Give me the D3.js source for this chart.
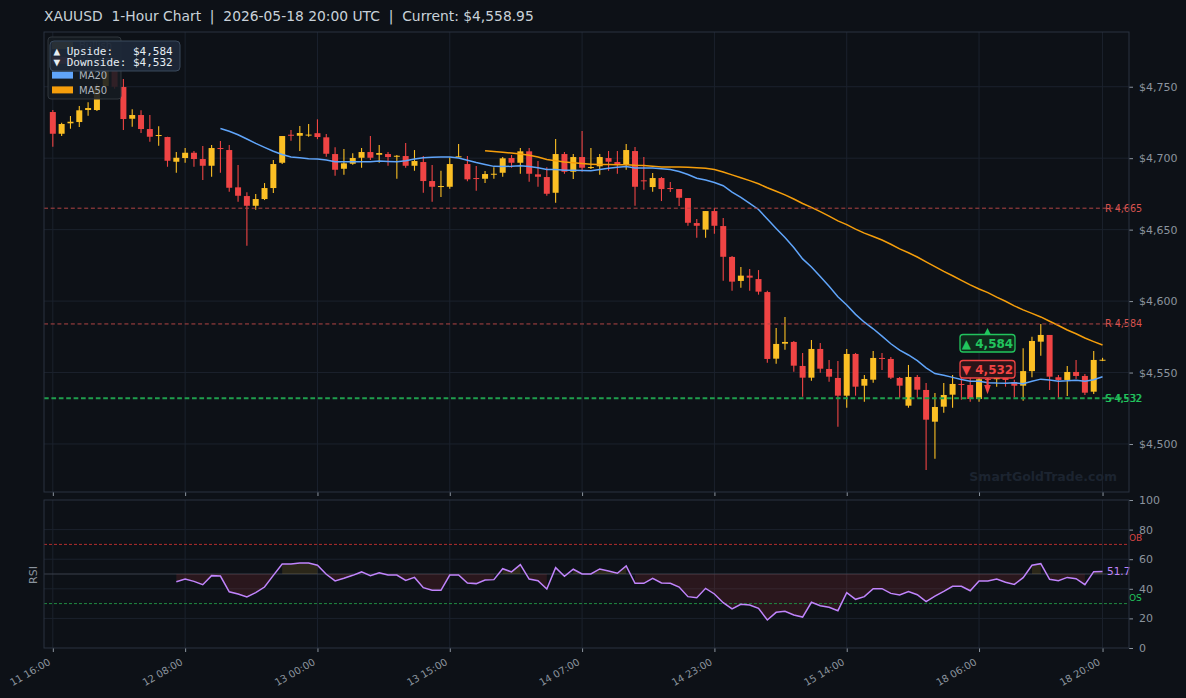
<!DOCTYPE html>
<html><head><meta charset="utf-8">
<script src="https://cdn.jsdelivr.net/npm/d3@7"></script>
<style>
body{margin:0;background:#0d1117;}
svg text{font-family:"DejaVu Sans",sans-serif;}
</style>
</head><body>
<svg id="c" width="1186" height="698"></svg>
<script>
// ---------------- DATA ----------------
const tickIndex = [0,15,30,45,60,75,90,105,119];
const tickLabels = ["11 16:00","12 08:00","13 00:00","13 15:00","14 07:00","14 23:00","15 14:00","18 06:00","18 20:00"];
const priceTicks = [4500,4550,4600,4650,4700,4750];
const rsiTicks = [0,20,40,60,80,100];

const openP = [
4732.3,4717.1,4724.4,4725.3,4733.7,4733.7,4750.5,4761,4749.8,4727.6,
4730.2,4720.4,4715.8,4714.8,4697.5,4700.1,4703.8,4699.4,4694.7,4707.1,
4705.7,4679.6,4673.5,4666.7,4671.4,4679.1,4696.8,4716.4,4715.7,4716,
4717.5,4714.6,4702.9,4692.6,4696.1,4700.3,4704.3,4702.4,4702.9,4701.3,
4701.5,4694.7,4697.3,4684,4679.8,4680,4701,4695.9,4686.1,4685.6,
4688.4,4689.8,4700.1,4696.8,4704.8,4688.7,4686.8,4675.8,4702.9,4690.5,
4700.8,4693.1,4694.3,4700.1,4697.3,4695.4,4705,4684.5,4679.8,4686.1,
4679.1,4678.4,4672.1,4654.6,4650,4663,4652.5,4630.9,4614.1,4617.8,
4615.4,4606.3,4559.7,4570.2,4571.4,4554.6,4546.4,4566.5,4552.5,4546.2,
4533.8,4563,4540.8,4545,4560.2,4559.5,4546.2,4526.8,4546.9,4537.8,
4515.6,4526.1,4534.5,4542,4541.3,4531.5,4545.5,4545.3,4546.4,4543.2,
4540.8,4551,4571.6,4576.3,4546.7,4544.8,4550.4,4547.6,4536.6,4558.8];
const highP = [
4733.7,4724.8,4729.5,4736.5,4739.1,4752,4763,4762,4755.4,4734.2,
4733.5,4730.2,4722.3,4715,4704.3,4707.1,4705,4708.5,4709.2,4712,
4709.2,4695.2,4676.1,4674.9,4682.6,4698.7,4715.5,4719.7,4722.5,4723.9,
4727.2,4716.9,4707.6,4706.4,4703.4,4707.1,4715.5,4709.2,4704.3,4702.2,
4710.6,4705.7,4701.5,4695.2,4691.2,4700.6,4709.9,4701.5,4694.5,4691,
4693.6,4700.8,4702.2,4707.1,4707.1,4698,4693.6,4713.4,4704.3,4702.9,
4719,4707.1,4702.9,4705,4705,4709.9,4707.8,4700.8,4689.6,4686.8,
4683.3,4678.4,4672.1,4657.4,4663,4665.1,4658.1,4631.5,4623.8,4622.4,
4621.7,4607.3,4581.2,4588.9,4572.1,4563.7,4572.8,4570.7,4558.8,4558.1,
4566.5,4563.7,4548.3,4565.1,4563.7,4560.9,4546.9,4555.3,4548.3,4542.7,
4535.7,4542.7,4548.3,4547,4547.1,4547.1,4549,4552,4548.3,4544.9,
4567,4575,4584,4576.3,4548.3,4554.6,4558.8,4549,4565.1,4560.3];
const lowP = [
4708,4715.5,4720.6,4721.8,4729.7,4733,4749,4748.5,4719.7,4722,
4717.6,4711.5,4708.7,4694,4689.8,4696.8,4694,4684.7,4687,4689.8,
4676.5,4669.5,4638.8,4663.9,4670.7,4675.6,4695.9,4712.2,4705,4715,
4713.3,4701,4687.7,4688.4,4695.4,4693.3,4698.7,4696.8,4694.7,4685.6,
4693.3,4691.2,4675.8,4669.5,4672.8,4678.6,4700.8,4683.8,4677.2,4682.6,
4685.6,4687,4693.3,4689.1,4683.5,4680,4673.7,4668.8,4689.1,4685.4,
4690.5,4692.4,4688.4,4691.2,4689.1,4691.9,4666.7,4677.9,4676.5,4670,
4676.3,4666.5,4652.7,4644.3,4644.3,4647.1,4614.3,4607.3,4609.4,4607.3,
4604.5,4556.9,4556.2,4566,4550.6,4533.1,4544.3,4549.9,4543.6,4512.1,
4525.4,4533.8,4529.6,4542.9,4551.8,4545.5,4532.4,4525.4,4532.4,4481.8,
4489.7,4521.9,4525.4,4531,4529.6,4529.6,4540,4540,4540.1,4532.6,
4530.3,4546.7,4561.8,4537.8,4532,4533.6,4545.5,4534.3,4535,4558];
const closeP = [
4717.1,4723.9,4725.5,4733.5,4735.1,4750.5,4761,4750,4727.4,4730.2,
4720.4,4715,4716.2,4698.2,4700.3,4703.8,4699.4,4694.7,4707.1,4706.4,
4679.3,4673.7,4666.7,4671.4,4679.1,4695.9,4715.5,4715.7,4717.6,4716.5,
4714.8,4703.1,4691.9,4696.4,4700.1,4704.3,4700.3,4703.6,4700.8,4701.7,
4694.7,4698,4684,4680,4680.5,4695.9,4701.3,4685.2,4685.6,4688.9,
4689.1,4699.9,4696.8,4704.8,4689.1,4687,4675.1,4702.9,4690.5,4700.8,
4693.3,4693.8,4700.8,4697.5,4695.9,4705.7,4680,4684,4686.1,4678.4,
4678.6,4672.3,4654.8,4652.7,4663,4652.7,4631,4613.6,4617.8,4616.4,
4606.6,4559.5,4570,4571.4,4554.8,4546.4,4566.5,4552.7,4547.1,4533.8,
4563,4540.1,4545.5,4560.2,4559.7,4546.4,4540.8,4546.9,4538,4517,
4525.9,4534.3,4542,4541.8,4531.5,4545.3,4545.3,4547.5,4544.8,4540.8,
4551,4572.1,4576.3,4547.1,4544.8,4550.4,4547.6,4535.9,4558.8,4558.95];

const rsiStart = 14;
const rsiValues = [
44.8,46.6,45.0,42.8,48.9,48.6,38.0,36.5,34.5,37.4,
41.2,49.1,56.8,56.8,57.4,57.4,55.9,49.8,45.3,47.1,
49.1,51.4,48.9,50.9,49.3,49.3,45.7,47.7,40.8,39.0,
39.0,49.3,49.3,43.9,43.5,45.9,46.2,53.6,51.4,56.3,
46.6,45.5,39.9,54.3,48.4,53.2,50.0,50.0,53.4,52.0,
50.5,55.4,43.7,43.7,47.1,43.9,43.7,41.2,34.7,34.0,
40.3,36.5,30.6,26.4,29.5,29.1,26.8,18.9,24.1,24.8,
22.3,20.9,30.9,28.6,27.5,25.2,37.4,32.9,34.7,40.1,
40.1,36.9,35.8,38.1,36.0,31.3,35.1,38.3,41.7,41.7,
38.7,45.3,45.3,46.6,44.4,43.0,47.5,55.9,57.0,46.4,
45.5,47.7,46.8,42.8,51.6,51.7];

const resistanceLevels = [4665, 4584];
const supportLevels = [4532];
const upsideTarget = 4584, downsideTarget = 4532;
const titleText = "XAUUSD  1-Hour Chart  |  2026-05-18 20:00 UTC  |  Current: $4,558.95";

// ---------------- LAYOUT ----------------
const W=1186,H=698;
const L=44,R=1129,T=32,B=492,RT=500,RB=648;
const BULL="#fbbf24",BEAR="#ef4444",GRID="#1b222d",FRAME="#2a3341",AX="#8b949e";

const svg=d3.select("#c");
svg.append("rect").attr("width",W).attr("height",H).attr("fill","#0d1117");

const n=closeP.length;
const x=d3.scaleLinear().domain([-1,122]).range([L,R]);
const y=d3.scaleLinear().domain([4466.4,4788.3]).range([B,T]);
const yr=d3.scaleLinear().domain([0,100]).range([RB,RT]);

const defs=svg.append("defs");
defs.append("clipPath").attr("id","cm").append("rect").attr("x",L).attr("y",T).attr("width",R-L).attr("height",B-T);
defs.append("clipPath").attr("id","cr").append("rect").attr("x",L).attr("y",RT).attr("width",R-L).attr("height",RB-RT);

// title
svg.append("text").attr("x",44).attr("y",21).attr("fill","#c9d1d9")
  .style("font-size","13.85px").style("white-space","pre").text(titleText);

// ---------- main panel grid ----------
const gm=svg.append("g");
gm.selectAll("line.h").data(priceTicks).join("line")
  .attr("x1",L).attr("x2",R).attr("y1",d=>y(d)).attr("y2",d=>y(d)).attr("stroke",GRID);
gm.selectAll("line.v").data(tickIndex).join("line")
  .attr("x1",d=>x(d)).attr("x2",d=>x(d)).attr("y1",T).attr("y2",B).attr("stroke",GRID);

const main=svg.append("g").attr("clip-path","url(#cm)");

// candles
const idx=d3.range(n);
main.selectAll("line.wick").data(idx).join("line")
  .attr("x1",i=>x(i)).attr("x2",i=>x(i))
  .attr("y1",i=>y(highP[i])).attr("y2",i=>y(lowP[i]))
  .attr("stroke",i=>closeP[i]>=openP[i]?BULL:BEAR).attr("stroke-width",1.1);
const bw=6;
main.selectAll("rect.body").data(idx).join("rect")
  .attr("x",i=>x(i)-bw/2).attr("width",bw)
  .attr("y",i=>y(Math.max(openP[i],closeP[i])))
  .attr("height",i=>Math.max(1,Math.abs(y(openP[i])-y(closeP[i]))))
  .attr("fill",i=>closeP[i]>=openP[i]?BULL:BEAR);

// moving averages from closes
function sma(p){return idx.map(i=>i<p-1?null:d3.mean(closeP.slice(i-p+1,i+1)));}
const ma20=sma(20), ma50=sma(50);
const lineMA=d3.line().defined(d=>d.v!=null).x(d=>x(d.i)).y(d=>y(d.v));
main.append("path").datum(ma50.map((v,i)=>({i,v}))).attr("d",lineMA)
  .attr("fill","none").attr("stroke","#f59e0b").attr("stroke-width",1.5);
main.append("path").datum(ma20.map((v,i)=>({i,v}))).attr("d",lineMA)
  .attr("fill","none").attr("stroke","#60a5fa").attr("stroke-width",1.5);

// level lines
resistanceLevels.forEach(v=>{
  main.append("line").attr("x1",L).attr("x2",R).attr("y1",y(v)).attr("y2",y(v))
    .attr("stroke","#b04444").attr("stroke-width",1).attr("stroke-dasharray","4,2.7");
});
supportLevels.forEach(v=>{
  main.append("line").attr("x1",L).attr("x2",R).attr("y1",y(v)).attr("y2",y(v))
    .attr("stroke","#1f9e4d").attr("stroke-width",2).attr("stroke-dasharray","4.7,2.7");
});
resistanceLevels.forEach(v=>{
  svg.append("text").attr("x",1105).attr("y",y(v)).attr("dy","0.35em")
    .attr("fill","#d9534f").attr("font-size",9.6).text("R "+d3.format(",")(v));
});
supportLevels.forEach(v=>{
  [0,0.8].forEach(o=>svg.append("text").attr("x",1105+o).attr("y",y(v)+o).attr("dy","0.35em")
    .attr("fill","#22c55e").attr("font-size",9.6).text("S "+d3.format(",")(v)));
});

// watermark
svg.append("text").attr("x",1117).attr("y",481).attr("text-anchor","end")
  .attr("fill","#1c2430").attr("font-size",12.5).attr("font-weight","bold").text("SmartGoldTrade.com");

// target annotations
const ax=987.5;
const gUp=svg.append("g");
gUp.append("path").attr("d",`M${ax},${y(upsideTarget)+4} L${ax-3.3},${334.5} L${ax+3.3},${334.5} Z`).attr("fill","#22c55e");
gUp.append("rect").attr("x",960).attr("y",334.5).attr("width",55).attr("height",17.5).attr("rx",3)
  .attr("fill","#0f2a1c").attr("stroke","#22c55e").attr("stroke-width",1.3);
gUp.append("text").attr("x",ax).attr("y",347.5).attr("text-anchor","middle").attr("fill","#22c55e")
  .attr("font-size",12).attr("font-weight","bold").text("▲ "+d3.format(",")(upsideTarget));
const gDn=svg.append("g");
gDn.append("line").attr("x1",ax).attr("x2",ax).attr("y1",378).attr("y2",386).attr("stroke","#ef4444").attr("stroke-width",2);
gDn.append("path").attr("d",`M${ax},${y(downsideTarget)-4} L${ax-3.3},385 L${ax+3.3},385 Z`).attr("fill","#ef4444");
gDn.append("rect").attr("x",960).attr("y",360.5).attr("width",55).attr("height",17.5).attr("rx",3)
  .attr("fill","#2a1418").attr("stroke","#ef4444").attr("stroke-width",1.3);
gDn.append("text").attr("x",ax).attr("y",373.5).attr("text-anchor","middle").attr("fill","#ef4444")
  .attr("font-size",12).attr("font-weight","bold").text("▼ "+d3.format(",")(downsideTarget));

// main axes
svg.append("g").attr("transform",`translate(${R},0)`)
  .call(d3.axisRight(y).tickValues(priceTicks).tickSize(4).tickPadding(6).tickFormat(d=>"$"+d3.format(",")(d)));
svg.append("g").attr("transform",`translate(0,${B})`)
  .call(d3.axisBottom(x).tickValues(tickIndex).tickSize(4).tickFormat(""));
svg.append("rect").attr("x",L).attr("y",T).attr("width",R-L).attr("height",B-T)
  .attr("fill","none").attr("stroke",FRAME);

// legend
const lg=svg.append("g");
lg.append("rect").attr("x",48).attr("y",37).attr("width",73).attr("height",62).attr("rx",3)
  .attr("fill","#161b22").attr("fill-opacity",0.88).attr("stroke","#30363d");
const legendItems=[["Bullish",BULL],["Bearish",BEAR],["MA20","#60a5fa"],["MA50","#f59e0b"]];
legendItems.forEach((d,k)=>{
  const cy=45.5+k*14.8;
  lg.append("rect").attr("x",52).attr("y",cy-3.5).attr("width",21).attr("height",7).attr("fill",d[1]);
  lg.append("text").attr("x",79).attr("y",cy+3.6).attr("fill","#aeb6bf").attr("font-size",10).text(d[0]);
});

// info box (drawn over the legend, as in the reference)
const ib=svg.append("g");
ib.append("rect").attr("x",50).attr("y",41).attr("width",130).attr("height",30).attr("rx",4)
  .attr("fill","#1d2838").attr("fill-opacity",0.95).attr("stroke","#3b4a5d");
ib.append("text").attr("x",53.5).attr("y",54.5).attr("fill","#e6edf3").attr("font-size",11)
  .style("font-family","'DejaVu Sans Mono',monospace").style("white-space","pre")
  .text("▲ Upside:   $"+d3.format(",")(upsideTarget));
ib.append("text").attr("x",53.5).attr("y",66.2).attr("fill","#e6edf3").attr("font-size",11)
  .style("font-family","'DejaVu Sans Mono',monospace").style("white-space","pre")
  .text("▼ Downside: $"+d3.format(",")(downsideTarget));

// ---------- RSI panel ----------
const gr=svg.append("g");
gr.selectAll("line.h").data([20,40,60,80]).join("line")
  .attr("x1",L).attr("x2",R).attr("y1",d=>yr(d)).attr("y2",d=>yr(d)).attr("stroke",GRID);
gr.selectAll("line.v").data(tickIndex).join("line")
  .attr("x1",d=>x(d)).attr("x2",d=>x(d)).attr("y1",RT).attr("y2",RB).attr("stroke",GRID);
gr.append("line").attr("x1",L).attr("x2",R).attr("y1",yr(50)).attr("y2",yr(50)).attr("stroke","#3a414c");

const rp=svg.append("g").attr("clip-path","url(#cr)");
const rsiPts=rsiValues.map((v,k)=>({i:k+rsiStart,v}));
rp.append("path").datum(rsiPts)
  .attr("d",d3.area().defined(d=>d.v<50).x(d=>x(d.i)).y0(yr(50)).y1(d=>yr(d.v)))
  .attr("fill","rgba(239,68,68,0.13)");
rp.append("path").datum(rsiPts)
  .attr("d",d3.area().defined(d=>d.v>=50).x(d=>x(d.i)).y0(yr(50)).y1(d=>yr(d.v)))
  .attr("fill","rgba(251,191,36,0.13)");
rp.append("line").attr("x1",L).attr("x2",R).attr("y1",yr(70)).attr("y2",yr(70))
  .attr("stroke","#b32d2d").attr("stroke-dasharray","3,2");
rp.append("line").attr("x1",L).attr("x2",R).attr("y1",yr(30)).attr("y2",yr(30))
  .attr("stroke","#1f8a42").attr("stroke-dasharray","3,2");
rp.append("path").datum(rsiPts).attr("d",d3.line().x(d=>x(d.i)).y(d=>yr(d.v)))
  .attr("fill","none").attr("stroke","#c084fc").attr("stroke-width",1.5);

const lastR=rsiValues[rsiValues.length-1];
svg.append("text").attr("x",1107).attr("y",yr(lastR)).attr("dy","0.35em").attr("fill","#c084fc")
  .attr("font-size",10.5).text(lastR.toFixed(1));
svg.append("text").attr("x",1129).attr("y",541).attr("fill","#d64545").attr("font-size",9).text("OB");
svg.append("text").attr("x",1129).attr("y",601).attr("fill","#22c55e").attr("font-size",9).text("OS");

svg.append("g").attr("transform",`translate(${R},0)`)
  .call(d3.axisRight(yr).tickValues(rsiTicks).tickSize(4).tickPadding(6));
const xAxisR=svg.append("g").attr("transform",`translate(0,${RB})`)
  .call(d3.axisBottom(x).tickValues(tickIndex).tickSize(4).tickFormat((d,k)=>tickLabels[k]));
xAxisR.selectAll("text").attr("text-anchor","end").attr("dy",null).attr("y",null)
  .attr("transform","translate(-2,16) rotate(-30)");
svg.append("rect").attr("x",L).attr("y",RT).attr("width",R-L).attr("height",RB-RT)
  .attr("fill","none").attr("stroke",FRAME);
svg.append("text").attr("transform","translate(37,575) rotate(-90)").attr("text-anchor","middle")
  .attr("fill",AX).attr("font-size",11).text("RSI");

// axis styling
svg.selectAll(".domain").remove();
svg.selectAll(".tick line").attr("stroke",AX);
svg.selectAll(".tick text").attr("fill",AX).attr("font-size",11).style("font-family","'DejaVu Sans',sans-serif");
xAxisR.selectAll("text").attr("font-size",10);
</script>
</body></html>
